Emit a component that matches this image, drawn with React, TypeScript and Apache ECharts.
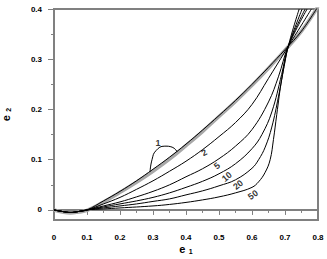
import React, { useEffect, useRef } from "react";
import * as echarts from "echarts";

const xs1 = [0, 0.025, 0.05, 0.075, 0.1, 0.15, 0.2, 0.25, 0.3, 0.35, 0.4, 0.45, 0.5, 0.55, 0.6, 0.65, 0.7, 0.75, 0.8];
const curve1 = [0, -0.003, -0.005, -0.003, 0, 0.018, 0.037, 0.058, 0.081, 0.105, 0.131, 0.159, 0.188, 0.218, 0.25, 0.284, 0.319, 0.356, 0.405];
const grayCurve = [0, -0.004, -0.006, -0.004, -0.001, 0.016, 0.035, 0.055, 0.077, 0.101, 0.128, 0.156, 0.186, 0.216, 0.248, 0.282, 0.318, 0.356, 0.405];

const xs2 = [0, 0.025, 0.05, 0.075, 0.1, 0.15, 0.2, 0.25, 0.3, 0.35, 0.4, 0.45, 0.5, 0.55, 0.6, 0.65, 0.7, 0.71, 0.75, 0.78];
const curve2 = [0, -0.003, -0.005, -0.003, 0, 0.012, 0.025, 0.041, 0.058, 0.077, 0.097, 0.12, 0.146, 0.174, 0.21, 0.262, 0.315, 0.326, 0.368, 0.4];

const xs5 = [0, 0.025, 0.05, 0.075, 0.1, 0.15, 0.2, 0.25, 0.3, 0.35, 0.4, 0.45, 0.5, 0.55, 0.6, 0.65, 0.68, 0.71, 0.767];
const curve5 = [0, -0.003, -0.005, -0.003, 0, 0.008, 0.016, 0.026, 0.037, 0.05, 0.066, 0.082, 0.102, 0.127, 0.16, 0.215, 0.265, 0.326, 0.4];

const xs10 = [0, 0.025, 0.05, 0.075, 0.1, 0.15, 0.2, 0.25, 0.3, 0.35, 0.4, 0.45, 0.5, 0.55, 0.6, 0.63, 0.66, 0.69, 0.71, 0.761];
const curve10 = [0, -0.003, -0.005, -0.003, 0, 0.006, 0.012, 0.018, 0.025, 0.034, 0.045, 0.057, 0.072, 0.092, 0.122, 0.15, 0.195, 0.27, 0.326, 0.4];

const xs20 = [0, 0.025, 0.05, 0.075, 0.1, 0.15, 0.2, 0.25, 0.3, 0.35, 0.4, 0.45, 0.5, 0.55, 0.6, 0.62, 0.64, 0.66, 0.68, 0.7, 0.71, 0.752];
const curve20 = [0, -0.003, -0.005, -0.003, 0, 0.004, 0.008, 0.012, 0.017, 0.022, 0.03, 0.038, 0.048, 0.06, 0.083, 0.1, 0.125, 0.165, 0.225, 0.295, 0.326, 0.4];

const xs50 = [0, 0.025, 0.05, 0.075, 0.1, 0.15, 0.2, 0.3, 0.35, 0.4, 0.45, 0.5, 0.55, 0.6, 0.62, 0.64, 0.655, 0.665, 0.675, 0.69, 0.71, 0.743];
const curve50 = [0, -0.003, -0.005, -0.003, 0, 0.002, 0.004, 0.008, 0.011, 0.015, 0.02, 0.026, 0.034, 0.045, 0.056, 0.075, 0.1, 0.14, 0.19, 0.26, 0.326, 0.4];

const leaderX = [0.291, 0.297, 0.309, 0.336, 0.358, 0.373];
const leaderY = [0.076, 0.1, 0.118, 0.127, 0.125, 0.116];

const labelTexts = ["1", "2", "5", "10", "20", "50"];
const labelX = [0.315, 0.455, 0.494, 0.524, 0.558, 0.603];
const labelY = [0.133, 0.114, 0.088, 0.066, 0.05, 0.03];
const labelRot = [0, 30, 40, 40, 40, 35];

const xTicks = [0, 0.1, 0.2, 0.3, 0.4, 0.5, 0.6, 0.7, 0.8];
const yTicks = [0, 0.1, 0.2, 0.3, 0.4];
const yMinorTicks = [0.05, 0.15, 0.25, 0.35];

const zip = (xs: number[], ys: number[]) => xs.map((x, i) => [x, ys[i]]);

const FONT = "Liberation Sans, Arial, sans-serif";
const AXIS_COLOR = "#808080";
const SMOOTH = 0.4;

export default function App() {
  const ref = useRef<HTMLDivElement>(null);
  useEffect(() => {
    if (!ref.current) return;
    const chart = echarts.init(ref.current, undefined, { renderer: "svg" });
    const blackLine = (name: string, data: number[][]) => ({
      name,
      type: "line",
      data,
      smooth: SMOOTH,
      showSymbol: false,
      symbol: "none",
      lineStyle: { color: "#000", width: 1 },
      itemStyle: { color: "#000" },
      z: 3,
    });
    const labelStyle = {
      fontSize: 9,
      fontWeight: "bold",
      fontFamily: FONT,
      color: "#000",
      textBorderWidth: 0,
      textBorderColor: "transparent",
    };
    chart.setOption({
      animation: false,
      grid: {
        left: 54,
        top: 9,
        right: 9,
        bottom: 39,
        show: true,
        borderColor: AXIS_COLOR,
        borderWidth: 2,
        containLabel: false,
        outerBoundsMode: "none",
      },
      xAxis: {
        type: "value",
        min: 0,
        max: 0.8,
        interval: 0.1,
        name: "{e|e} {s|1}",
        nameLocation: "middle",
        nameGap: 22,
        nameMoveOverlap: false,
        nameTextStyle: {
          rich: {
            e: { fontSize: 11, fontWeight: "bold", fontFamily: FONT, color: "#000" },
            s: { fontSize: 7, fontWeight: "bold", fontFamily: FONT, color: "#000", padding: [6, 0, 0, 0] },
          },
        },
        axisLine: { show: true, lineStyle: { color: AXIS_COLOR, width: 2 } },
        axisTick: { show: true, length: 5, lineStyle: { color: AXIS_COLOR, width: 1 } },
        minorTick: { show: true, splitNumber: 2, length: 3, lineStyle: { color: AXIS_COLOR, width: 1 } },
        splitLine: { show: false },
        minorSplitLine: { show: false },
        axisLabel: {
          customValues: xTicks,
          margin: 13,
          fontSize: 8,
          fontWeight: "bold",
          fontFamily: FONT,
          color: "#000",
          formatter: (v: number) => (v === 0 ? "0" : String(Number(v.toFixed(1)))),
        },
      },
      yAxis: [
        {
          type: "value",
          min: -0.02,
          max: 0.4,
          name: "{e|e} {s|2}",
          nameLocation: "middle",
          nameGap: 42,
          nameRotate: 90,
          nameMoveOverlap: false,
          nameTextStyle: {
            rich: {
              e: { fontSize: 11, fontWeight: "bold", fontFamily: FONT, color: "#000" },
              s: { fontSize: 7, fontWeight: "bold", fontFamily: FONT, color: "#000", padding: [6, 0, 0, 0] },
            },
          },
          axisLine: { show: true, lineStyle: { color: AXIS_COLOR, width: 2 } },
          axisTick: { show: true, customValues: yTicks, length: 6, lineStyle: { color: AXIS_COLOR, width: 1 } },
          splitLine: { show: false },
          axisLabel: {
            customValues: yTicks,
            margin: 12,
            fontSize: 8,
            fontWeight: "bold",
            fontFamily: FONT,
            color: "#000",
            formatter: (v: number) => (v === 0 ? "0" : String(Number(v.toFixed(1)))),
          },
        },
        {
          type: "value",
          min: -0.02,
          max: 0.4,
          position: "left",
          axisLine: { show: false },
          axisTick: { show: true, customValues: yMinorTicks, length: 3, lineStyle: { color: AXIS_COLOR, width: 1 } },
          axisLabel: { show: false },
          splitLine: { show: false },
        },
      ],
      series: [
        {
          name: "gray",
          type: "line",
          data: zip(xs1, grayCurve),
          smooth: SMOOTH,
          showSymbol: false,
          symbol: "none",
          lineStyle: { color: "#a8a8a8", width: 3.5 },
          itemStyle: { color: "#a8a8a8" },
          z: 2,
        },
        blackLine("1", zip(xs1, curve1)),
        blackLine("2", zip(xs2, curve2)),
        blackLine("5", zip(xs5, curve5)),
        blackLine("10", zip(xs10, curve10)),
        blackLine("20", zip(xs20, curve20)),
        blackLine("50", zip(xs50, curve50)),
        {
          name: "leader",
          type: "line",
          data: zip(leaderX, leaderY),
          smooth: 0.5,
          showSymbol: false,
          symbol: "none",
          lineStyle: { color: "#000", width: 1 },
          itemStyle: { color: "#000" },
          z: 3,
        },
        {
          name: "labels",
          type: "scatter",
          symbolSize: 0,
          itemStyle: { color: "#000" },
          label: { show: true, position: "inside", ...labelStyle },
          data: labelTexts.map((t, i) => ({
            value: [labelX[i], labelY[i]],
            itemStyle: { color: "#000" },
            label: {
              show: true,
              formatter: t,
              position: "inside",
              rotate: labelRot[i],
              ...labelStyle,
            },
          })),
          z: 4,
        },
      ],
    });
    return () => chart.dispose();
  }, []);
  return <div ref={ref} style={{ width: 327, height: 259, position: "absolute", left: 0, top: 0 }} />;
}
